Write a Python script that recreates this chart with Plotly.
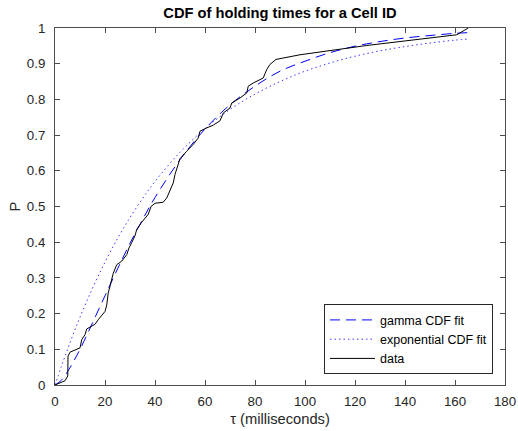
import plotly.graph_objects as go

data_x = [0, 4.0, 5.1, 5.2, 6.0, 10.0, 10.7, 12.0, 12.7, 14.7, 16.0, 17.3, 18.7, 20.0, 20.7,
          21.3, 22.0, 23.3, 24.7, 26.7, 28.7, 29.6, 30.7, 32.0, 32.7, 34.7, 37.3, 38.4, 40.0,
          43.3, 44.7, 46.0, 47.3, 48.0, 49.3, 50.0, 52.7, 55.3, 57.3, 58.0, 60.0, 63.3, 66.0,
          67.3, 70.0, 70.7, 74.0, 76.7, 77.3, 79.3, 83.3, 84.7, 86.0, 88.4, 98.0, 124.7,
          160.7, 163.3, 165.3]
data_y = [0, 0.012, 0.025, 0.081, 0.092, 0.104, 0.127, 0.141, 0.157, 0.164, 0.170, 0.183,
          0.196, 0.206, 0.224, 0.258, 0.277, 0.313, 0.337, 0.347, 0.365, 0.384, 0.399, 0.418,
          0.436, 0.456, 0.478, 0.500, 0.509, 0.512, 0.524, 0.543, 0.566, 0.590, 0.622, 0.634,
          0.655, 0.674, 0.692, 0.711, 0.718, 0.728, 0.740, 0.762, 0.776, 0.790, 0.804, 0.818,
          0.837, 0.846, 0.860, 0.884, 0.898, 0.912, 0.925, 0.951, 0.981, 0.991, 1.0]

# Fitted curves (values read/estimated from the picture)
fit_x = [0, 2.5, 5, 7.5, 10, 15, 20, 25, 30, 35, 40, 50, 60, 70, 80, 90, 100, 110, 120,
         130, 140, 150, 160, 165.3]
gamma_y = [0, 0.013, 0.037, 0.067, 0.100, 0.174, 0.250, 0.325, 0.397, 0.463, 0.525, 0.631,
           0.717, 0.785, 0.837, 0.879, 0.907, 0.931, 0.949, 0.962, 0.972, 0.979, 0.985, 0.987]
expo_y = [0, 0.051, 0.100, 0.146, 0.190, 0.271, 0.344, 0.410, 0.469, 0.522, 0.570, 0.652,
          0.718, 0.772, 0.815, 0.850, 0.879, 0.902, 0.921, 0.936, 0.948, 0.958, 0.966, 0.969]

x_ticks = [0, 20, 40, 60, 80, 100, 120, 140, 160, 180]
y_ticks = [0, 0.1, 0.2, 0.3, 0.4, 0.5, 0.6, 0.7, 0.8, 0.9, 1]
y_tick_text = ["0", "0.1", "0.2", "0.3", "0.4", "0.5", "0.6", "0.7", "0.8", "0.9", "1"]

FONT = "Liberation Sans, Arial, Helvetica, sans-serif"
AX = "#4d4d4d"
TXT = "#262626"

fig = go.Figure()
fig.add_trace(go.Scatter(x=fit_x, y=gamma_y, mode="lines", name="gamma CDF fit",
                         line=dict(color="#0000ff", width=1, dash="10px,6px", shape="spline")))
fig.add_trace(go.Scatter(x=fit_x, y=expo_y, mode="lines", name="exponential CDF fit",
                         line=dict(color="#3c3cff", width=1, dash="1.5px,3px", shape="spline")))
fig.add_trace(go.Scatter(x=data_x, y=data_y, mode="lines", name="data",
                         line=dict(color="#000000", width=1)))

fig.update_layout(
    template="none",
    width=518, height=431,
    margin=dict(l=55, r=13, t=28, b=46, autoexpand=False),
    paper_bgcolor="white", plot_bgcolor="white",
    font=dict(family=FONT, size=13.3, color=TXT),
    title=dict(text="<b>CDF of holding times for a Cell ID</b>", x=0.5, xref="paper",
               xanchor="center", y=1, yref="container", yanchor="top",
               pad=dict(t=8), font=dict(size=14.7, color="#000000")),
    showlegend=True,
    legend=dict(x=0.9733, y=0.03, xanchor="right", yanchor="bottom",
                bordercolor="#262626", borderwidth=1, bgcolor="white", itemwidth=45,
                font=dict(size=12.5, color="#000000"), tracegroupgap=0),
    xaxis=dict(range=[0, 180], tickvals=x_ticks, ticktext=[str(v) for v in x_ticks],
               automargin=False,
               showgrid=False, zeroline=False, showline=True, linecolor=AX, linewidth=1,
               mirror="ticks", ticks="inside", ticklen=5, tickcolor=AX, tickwidth=1,
               ticklabelstandoff=4,
               title=dict(text="τ (milliseconds)", font=dict(size=14.7, color=TXT), standoff=5)),
    yaxis=dict(range=[0, 1], tickvals=y_ticks, ticktext=y_tick_text,
               automargin=False,
               showgrid=False, zeroline=False, showline=True, linecolor=AX, linewidth=1,
               mirror="ticks", ticks="inside", ticklen=5, tickcolor=AX, tickwidth=1,
               ticklabelstandoff=6,
               title=dict(text="P", font=dict(size=14.7, color=TXT), standoff=2)),
)

fig.write_html("out.html")
